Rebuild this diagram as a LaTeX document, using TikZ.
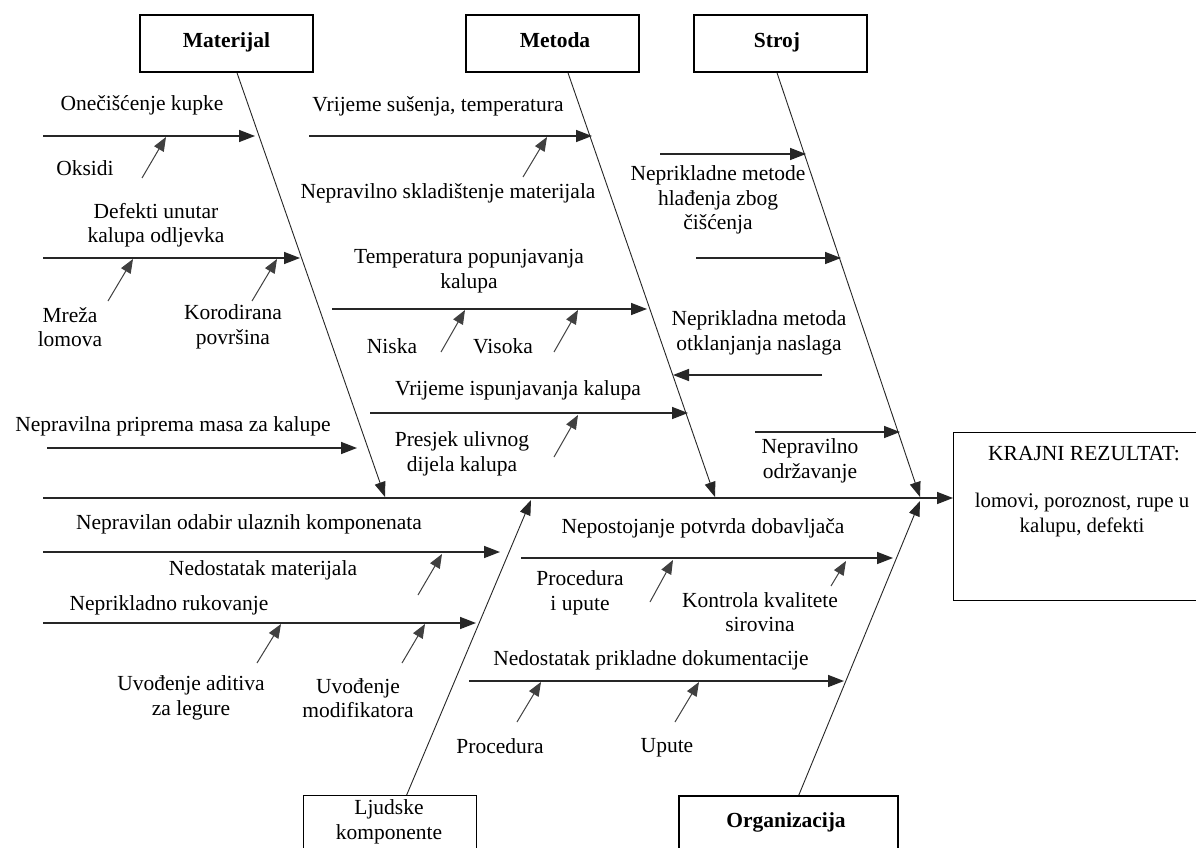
\documentclass[tikz,border=0pt]{standalone}
\usepackage{fontspec}
\setmainfont{Liberation Serif}
\usetikzlibrary{arrows.meta}
\begin{document}
\begin{tikzpicture}[x=1pt,y=-1pt,
  font=\fontsize{21.5}{24.5}\selectfont,
  lbl/.style={inner sep=0pt, align=center},
  cat/.style={draw, line width=1.7pt, minimum width=173pt, minimum height=57pt, inner sep=0pt},
  catfont/.style={inner sep=0pt, font=\fontsize{21.5}{24.5}\selectfont\bfseries},
  bone/.style={line width=0.9pt, draw=black!85, -{Triangle[length=15pt,width=11pt]}},
  branch/.style={line width=1.5pt, draw=black!85, -{Triangle[length=16pt,width=12pt]}},
  sub/.style={line width=1pt, draw=black!75, -{Triangle[length=14pt,width=11pt]}},
]
\useasboundingbox[fill=white] (0,0) rectangle (1196,848);

% category boxes
\node[cat] (mat) at (226.5,43.5) {};
\node[catfont] (matT) at (226.5,42) {Materijal};
\node[cat] (met) at (552.5,43.5) {};
\node[catfont] (metT) at (555,40) {Metoda};
\node[cat] (str) at (780.5,43.5) {};
\node[catfont] (strT) at (777,42) {Stroj};
\node[draw, line width=1.3pt, minimum width=173pt, minimum height=70pt, anchor=north west, inner sep=0pt] (lju) at (303,795) {};
\node[lbl] (ljuT) at (389,822) {Ljudske\\komponente};
\node[draw, line width=1.7pt, minimum width=219pt, minimum height=70pt, anchor=north west, inner sep=0pt] (org) at (678,795) {};
\node[catfont] (orgT) at (786,822) {Organizacija};
\node[draw, line width=1.3pt, minimum width=262pt, minimum height=168pt, anchor=north west, inner sep=0pt] (res) at (953,432) {};
\node[lbl] (resT) at (1084,454) {KRAJNI REZULTAT:};
\node[lbl, font=\fontsize{20.8}{25}\selectfont] (resD) at (1082,515) {lomovi, poroznost, rupe u\\kalupu, defekti};

% spine
\coordinate (sp0) at (43,498);
\draw[branch] (sp0) -- (sp0 -| res.west);

% main bones
\coordinate (mT) at (385,497);
\coordinate (eT) at (715,497);
\coordinate (sT) at (920,497);
\coordinate (lT) at (531,500);
\coordinate (oT) at (920,501);
\draw[bone] ([xshift=10.5pt]mat.south) -- (mT);
\draw[bone] ([xshift=15.5pt]met.south) -- (eT);
\draw[bone] ([xshift=-3.5pt]str.south) -- (sT);
\draw[bone] ([xshift=16.5pt]lju.north) -- (lT);
\draw[bone] ([xshift=10.5pt]org.north) -- (oT);

% ---------- Materijal ----------
\coordinate (b1a) at (43,136); \coordinate (b1b) at (255,136);
\draw[branch] (b1a) -- (b1b);
\node[lbl] (t1) at (142,105) {Onečišćenje kupke};
\coordinate (s1a) at (142,178); \coordinate (s1b) at (166,137);
\draw[sub] (s1a) -- (s1b);
\node[lbl] (t1a) at (85,168) {Oksidi};

\coordinate (b2a) at (43,258); \coordinate (b2b) at (300,258);
\draw[branch] (b2a) -- (b2b);
\node[lbl] (t2) at (156,225) {Defekti unutar\\kalupa odljevka};
\coordinate (s2a) at (108,301); \coordinate (s2b) at (133,259);
\draw[sub] (s2a) -- (s2b);
\node[lbl] (t2a) at (70,327) {Mreža\\lomova};
\coordinate (s3a) at (252,301); \coordinate (s3b) at (277,259);
\draw[sub] (s3a) -- (s3b);
\node[lbl] (t2b) at (233,327) {Korodirana\\površina};

\coordinate (b3a) at (47,448); \coordinate (b3b) at (357,448);
\draw[branch] (b3a) -- (b3b);
\node[lbl] (t3) at (173,426) {Nepravilna priprema masa za kalupe};

% ---------- Ljudske komponente ----------
\coordinate (b4a) at (43,552); \coordinate (b4b) at (500,552);
\draw[branch] (b4a) -- (b4b);
\node[lbl] (t4) at (249,524) {Nepravilan odabir ulaznih komponenata};
\coordinate (s4a) at (418,595); \coordinate (s4b) at (442,554);
\draw[sub] (s4a) -- (s4b);
\node[lbl] (t4a) at (263,570) {Nedostatak materijala};

\coordinate (b5a) at (43,623); \coordinate (b5b) at (476,623);
\draw[branch] (b5a) -- (b5b);
\node[lbl] (t5) at (169,605) {Neprikladno rukovanje};
\coordinate (s5a) at (257,663); \coordinate (s5b) at (281,624);
\draw[sub] (s5a) -- (s5b);
\node[lbl] (t5a) at (191,698) {Uvođenje aditiva\\za legure};
\coordinate (s6a) at (402,663); \coordinate (s6b) at (425,624);
\draw[sub] (s6a) -- (s6b);
\node[lbl] (t5b) at (358,698) {Uvođenje\\modifikatora};

% ---------- Metoda ----------
\coordinate (b6a) at (309,136); \coordinate (b6b) at (592,136);
\draw[branch] (b6a) -- (b6b);
\node[lbl] (t6) at (438,106) {Vrijeme sušenja, temperatura};
\coordinate (s7a) at (523,177); \coordinate (s7b) at (547,137);
\draw[sub] (s7a) -- (s7b);
\node[lbl] (t6a) at (448,193) {Nepravilno skladištenje materijala};

\coordinate (b7a) at (332,309); \coordinate (b7b) at (647,309);
\draw[branch] (b7a) -- (b7b);
\node[lbl] (t7) at (469,271) {Temperatura popunjavanja\\kalupa};
\coordinate (s8a) at (441,352); \coordinate (s8b) at (465,310);
\draw[sub] (s8a) -- (s8b);
\node[lbl] (t7a) at (392,346) {Niska};
\coordinate (s9a) at (554,352); \coordinate (s9b) at (578,310);
\draw[sub] (s9a) -- (s9b);
\node[lbl] (t7b) at (503,346) {Visoka};

\coordinate (b8a) at (370,413); \coordinate (b8b) at (688,413);
\draw[branch] (b8a) -- (b8b);
\node[lbl] (t8) at (518,390) {Vrijeme ispunjavanja kalupa};
\coordinate (s10a) at (554,457); \coordinate (s10b) at (578,415);
\draw[sub] (s10a) -- (s10b);
\node[lbl] (t8a) at (462,454) {Presjek ulivnog\\dijela kalupa};

\coordinate (b9a) at (822,375); \coordinate (b9b) at (673,375);
\draw[branch] (b9a) -- (b9b);
\node[lbl] (t9) at (759,333) {Neprikladna metoda\\otklanjanja naslaga};

% ---------- Stroj ----------
\coordinate (b10a) at (660,154); \coordinate (b10b) at (806,154);
\draw[branch] (b10a) -- (b10b);
\node[lbl] (t10) at (718,200) {Neprikladne metode\\hlađenja zbog\\čišćenja};
\coordinate (b11a) at (696,258); \coordinate (b11b) at (841,258);
\draw[branch] (b11a) -- (b11b);
\coordinate (b12a) at (755,432); \coordinate (b12b) at (900,432);
\draw[branch] (b12a) -- (b12b);
\node[lbl] (t12) at (810,461) {Nepravilno\\održavanje};

% ---------- Organizacija ----------
\coordinate (b13a) at (521,558); \coordinate (b13b) at (893,558);
\draw[branch] (b13a) -- (b13b);
\node[lbl] (t13) at (703,528) {Nepostojanje potvrda dobavljača};
\coordinate (s11a) at (650,602); \coordinate (s11b) at (673,560);
\draw[sub] (s11a) -- (s11b);
\node[lbl] (t13a) at (580,593) {Procedura\\i upute};
\coordinate (s12a) at (831,586); \coordinate (s12b) at (846,561);
\draw[sub] (s12a) -- (s12b);
\node[lbl] (t13b) at (760,612) {Kontrola kvalitete\\sirovina};

\coordinate (b14a) at (469,681); \coordinate (b14b) at (844,681);
\draw[branch] (b14a) -- (b14b);
\node[lbl] (t14) at (651,660) {Nedostatak prikladne dokumentacije};
\coordinate (s13a) at (517,722); \coordinate (s13b) at (541,682);
\draw[sub] (s13a) -- (s13b);
\node[lbl] (t14a) at (500,746) {Procedura};
\coordinate (s14a) at (675,722); \coordinate (s14b) at (699,682);
\draw[sub] (s14a) -- (s14b);
\node[lbl] (t14b) at (667,748) {Upute};
\end{tikzpicture}
\end{document}
